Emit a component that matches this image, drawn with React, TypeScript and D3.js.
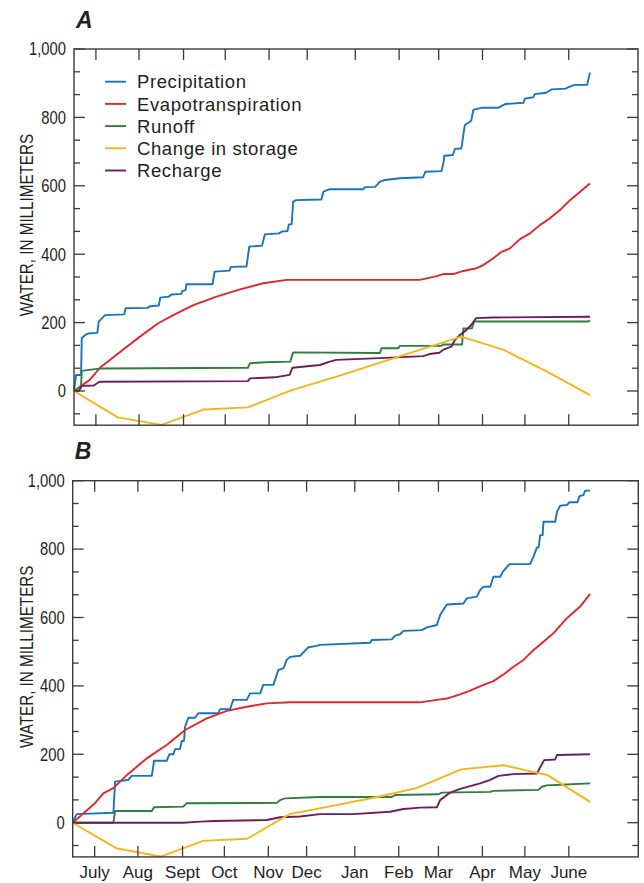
import React from "react";
import * as d3 from "d3";

type Pt = [number, number];

// x values are days since July 1; y values are millimeters
const precipA: Pt[] = [[0,0],[1.5,47],[5,47],[5.5,155],[8,164],[10,168],[16.5,170],[17.5,203],[22,222],[35.5,224],[36.5,242],[52,243],[54,248],[60,250],[61,273],[67,276],[69,282],[76,284],[76.5,292],[79,295],[79.5,312],[98,312],[99.5,349],[110,352],[111,363],[122,364],[124,422],[133,425],[135,458],[145,461],[147,466],[151,468],[152,487],[154,488],[155,553],[157,558],[175,560],[176.5,583],[181,590],[204.5,590],[206,596],[213,597],[216.5,612],[220,617],[230.5,622],[247,625],[248.5,641],[260,643],[261.5,670],[262,688],[268,690],[269.5,708],[274,709],[276.5,778],[281,790],[282.5,822],[288,828],[300,828],[305,839],[318,843],[319,855],[325,859],[326,868],[334,872],[338,882],[348,884],[349.5,888],[354,895],[363,895],[365,931]];
const etA: Pt[] = [[0,0],[11,32],[18.4,68],[36,125],[46.7,159],[59.6,198],[70.2,222],[84.4,251],[100.9,276],[117.4,297],[133.9,315],[150.5,325],[244.7,325],[256.6,336],[261.2,342],[268.3,342],[275.4,351],[284.9,359],[289.5,368],[296.6,388],[302.5,407],[308.4,417],[315.5,444],[322.6,461],[329.6,485],[336.7,505],[343.8,529],[350.9,558],[365,607]];
const runoffA: Pt[] = [[0,0],[3,8],[5,15],[5.5,59],[19,66],[123,68],[124.5,81],[135,84],[153,86],[155,113],[216.5,111],[217.5,125],[229.5,125],[230.5,132],[260,132],[261,136],[274.5,136],[275.5,183],[281.5,183],[283,203],[364,203],[365,207]];
const rechargeA: Pt[] = [[0,0],[3.5,0],[5.5,15],[14,16],[18,27],[123,29],[124.5,37],[142,40],[152.5,47],[154.5,68],[174,76],[181,86],[185.5,91],[216.5,96],[247,102],[251.5,108],[258.5,112],[261,120],[267,130],[269.5,149],[273,164],[277.5,178],[281,193],[284.5,213],[296.5,215],[365,217]];

const precipB: Pt[] = [[0,0],[2.8,25],[28.7,29],[29.9,120],[39.2,125],[41.6,137],[55.8,137],[57.4,181],[66.3,181],[68.2,200],[71,200],[72.2,215],[75.7,215],[76.9,239],[78.5,239],[79.3,281],[81.6,307],[86.3,307],[88.6,320],[102.8,320],[104,332],[111,332],[113.3,359],[122.8,359],[125.1,378],[132.2,378],[134.5,403],[141.6,403],[145.1,447],[148.6,451],[151,476],[153.4,485],[160.4,488],[163.9,503],[166.3,513],[172.2,517],[174.5,520],[209.8,526],[211,534],[225.1,536],[227.5,547],[231,551],[233.3,561],[246.3,563],[249.8,571],[256.9,578],[259.2,607],[263.9,638],[275.7,641],[278,656],[285.1,661],[287.4,680],[289.8,690],[294.5,690],[296.8,719],[301.6,719],[303.5,734],[308.1,756],[322.7,756],[325.1,778],[327.5,805],[328.7,805],[329.8,841],[331.5,841],[332.1,880],[340.4,880],[341.6,909],[343.9,927],[348.6,929],[350.5,937],[356.1,937],[357.5,955],[360.3,958],[361.5,971],[365,971]];
const etB: Pt[] = [[0,0],[15.7,57],[21.6,86],[28.7,101],[38.1,139],[52.2,188],[66.3,227],[79.3,271],[94.6,305],[108.7,327],[122.8,339],[136.9,349],[153.4,352],[245.1,352],[256.9,359],[263.9,363],[273.3,375],[280.4,386],[289.8,403],[296.8,414],[305.1,437],[311,456],[318,476],[325.1,505],[332.1,529],[339.2,554],[348.6,598],[358,632],[365,669]];
const runoffB: Pt[] = [[0,0],[28.7,0],[29.9,34],[55.8,34],[57.4,45],[78,47],[80.5,57],[144,58],[146.3,66],[149.8,71],[174.5,75],[225.1,75],[227.5,81],[258,83],[260.4,88],[294.5,90],[296.8,93],[328.6,96],[331,105],[334.5,109],[344,111],[365,115]];
const rechargeB: Pt[] = [[0,0],[78,0],[90,3],[100,5],[137,8],[146.3,16],[160.4,18],[174.5,25],[198,25],[223.9,32],[233.3,40],[245.1,44],[256.9,45],[259.2,66],[266.3,88],[273.3,99],[280.4,107],[287.4,115],[294.5,125],[300.4,137],[311,142],[327.5,144],[329.8,162],[332.6,183],[340.4,185],[341.6,198],[365,200]];

// change in storage: monthly values at the first day of each month
const monthStartDays = [0, 31, 62, 92, 123, 153, 184, 215, 243, 274, 304, 335, 365];
const storageA = [0, -77, -99, -54, -48, 1, 40, 81, 118, 159, 120, 56, -12];
const storageB = [0, -75, -99, -53, -47, 25, 50, 75, 102, 156, 168, 139, 61];

const monthLabels = ["July", "Aug", "Sept", "Oct", "Nov", "Dec", "Jan", "Feb", "Mar", "Apr", "May", "June"];
const monthTickDays = [15.5, 46, 77.5, 107, 138, 165, 199, 230, 258, 289, 319, 350];

const seriesNames = ["Precipitation", "Evapotranspiration", "Runoff", "Change in storage", "Recharge"];
const seriesColors = ["#1a74bb", "#e1262d", "#2f7e3e", "#f4b41a", "#6a1e5e"];

const majorTicks = [0, 200, 400, 600, 800, 1000];
const FONT = "'Liberation Sans', Arial, Helvetica, sans-serif";
const AXIS = "#3a3a3a";

type PanelProps = {
  letter: string;
  left: number;
  right: number;
  top: number;
  bottom: number;
  data: Pt[][];
  legend: boolean;
  months: boolean;
};

function Panel({ letter, left, right, top, bottom, data, legend, months }: PanelProps) {
  const x = d3.scaleLinear().domain([0, 399]).range([left, right]);
  const y = d3.scaleLinear().domain([-100, 1000]).range([bottom, top]);
  const line = d3.line<Pt>().x((d) => x(d[0])).y((d) => y(d[1]));
  const minorTicks = d3.range(-1, 16).map((i) => (i * 200) / 3).filter((v) => Math.abs(v / 200 - Math.round(v / 200)) > 0.01 && v <= 1000);
  const drawOrder = [0, 1, 2, 4, 3];
  return (
    <g>
      <text x={left + 2} y={top - 21.5} fontFamily={FONT} fontWeight="bold" fontStyle="italic" fontSize={23} fill="#231f20">{letter}</text>
      {drawOrder.map((i) => (
        <path key={i} d={line(data[i]) || ""} fill="none" stroke={seriesColors[i]} strokeWidth={1.9} strokeLinejoin="round" />
      ))}
      <rect x={left} y={top} width={right - left} height={bottom - top} fill="none" stroke={AXIS} strokeWidth={1.4} />
      {majorTicks.map((v) => (
        <g key={"M" + v}>
          <line x1={left} x2={left + 11} y1={y(v)} y2={y(v)} stroke={AXIS} strokeWidth={1.3} />
          <line x1={right} x2={right - 11} y1={y(v)} y2={y(v)} stroke={AXIS} strokeWidth={1.3} />
          <text transform={`translate(${left - 8},${y(v)}) scale(0.845,1)`} textAnchor="end" dy="0.36em" fontFamily={FONT} fontSize={17.5} fill="#231f20">{d3.format(",")(v)}</text>
        </g>
      ))}
      {minorTicks.map((v) => (
        <g key={"m" + v}>
          <line x1={left} x2={left + 6} y1={y(v)} y2={y(v)} stroke={AXIS} strokeWidth={1.3} />
          <line x1={right} x2={right - 6} y1={y(v)} y2={y(v)} stroke={AXIS} strokeWidth={1.3} />
        </g>
      ))}
      {monthTickDays.map((d, i) => (
        <g key={"t" + i}>
          <line x1={x(d)} x2={x(d)} y1={top} y2={top + 11} stroke={AXIS} strokeWidth={1.3} />
          <line x1={x(d)} x2={x(d)} y1={bottom} y2={bottom - 11} stroke={AXIS} strokeWidth={1.3} />
          {months && (
            <text x={x(d)} y={bottom + 21} textAnchor="middle" fontFamily={FONT} fontSize={17} fill="#231f20">{monthLabels[i]}</text>
          )}
        </g>
      ))}
      <text transform={`translate(32.5,${y(485)}) rotate(-90) scale(0.845,1)`} textAnchor="middle" fontFamily={FONT} fontSize={18} fill="#231f20">WATER, IN MILLIMETERS</text>
      {legend && seriesNames.map((name, i) => (
        <g key={name}>
          <line x1={left + 31} x2={left + 52} y1={top + 32.7 + i * 22.2} y2={top + 32.7 + i * 22.2} stroke={seriesColors[i]} strokeWidth={1.9} />
          <text x={left + 63} y={top + 39.3 + i * 22.2} fontFamily={FONT} fontSize={18.5} letterSpacing={0.6} fill="#231f20">{name}</text>
        </g>
      ))}
    </g>
  );
}

export default function App() {
  const storageSeriesA: Pt[] = monthStartDays.map((d, i) => [d, storageA[i]]);
  const storageSeriesB: Pt[] = monthStartDays.map((d, i) => [d, storageB[i]]);
  return (
    <svg width={644} height={883} style={{ position: "absolute", left: 0, top: 0, background: "#fff" }}>
      <rect width={644} height={883} fill="#fff" />
      <Panel letter="A" left={74} right={638} top={49} bottom={425.2}
        data={[precipA, etA, runoffA, storageSeriesA, rechargeA]} legend={true} months={false} />
      <Panel letter="B" left={72.7} right={638.3} top={480.7} bottom={856.9}
        data={[precipB, etB, runoffB, storageSeriesB, rechargeB]} legend={false} months={true} />
    </svg>
  );
}
